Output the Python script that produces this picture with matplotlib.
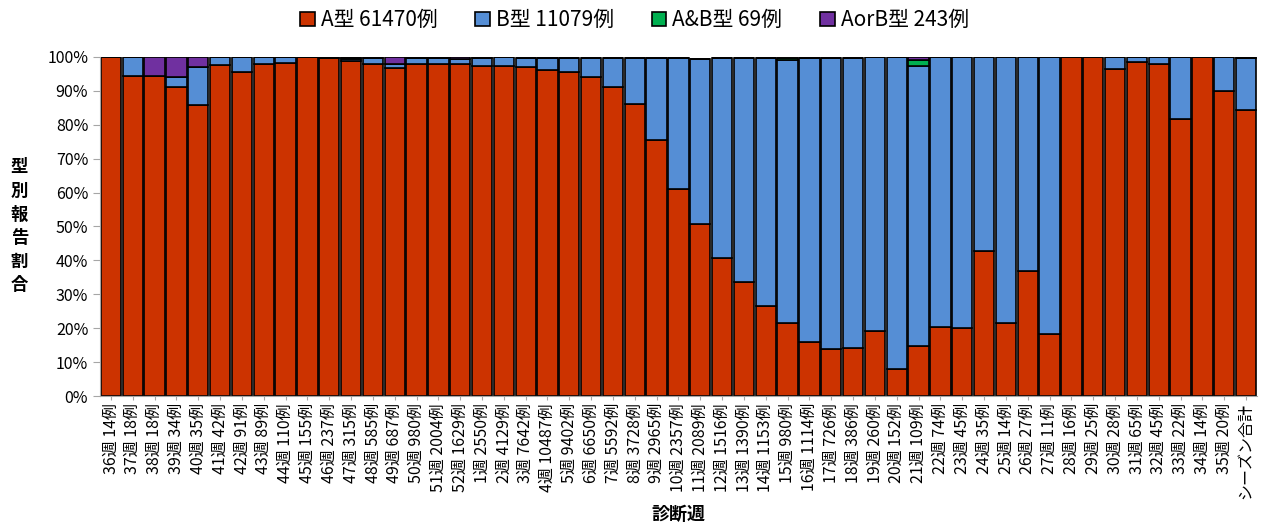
import matplotlib
matplotlib.use("Agg")
import matplotlib.pyplot as plt
import numpy as np

plt.rcParams['font.family'] = ['Noto Sans CJK JP', 'DejaVu Sans']

weeks = ["36週", "37週", "38週", "39週", "40週", "41週", "42週", "43週", "44週", "45週",
         "46週", "47週", "48週", "49週", "50週", "51週", "52週", "1週", "2週", "3週",
         "4週", "5週", "6週", "7週", "8週", "9週", "10週", "11週", "12週", "13週",
         "14週", "15週", "16週", "17週", "18週", "19週", "20週", "21週", "22週", "23週",
         "24週", "25週", "26週", "27週", "28週", "29週", "30週", "31週", "32週", "33週",
         "34週", "35週"]
counts = [14, 18, 18, 34, 35, 42, 91, 89, 110, 155,
          237, 315, 585, 687, 980, 2004, 1629, 2550, 4129, 7642,
          10487, 9402, 6650, 5592, 3728, 2965, 2357, 2089, 1516, 1390,
          1153, 980, 1114, 726, 386, 260, 152, 109, 74, 45,
          35, 14, 27, 11, 16, 25, 28, 65, 45, 22,
          14, 20]
total_label = "シーズン合計"

pct_A = [100.0, 94.4, 94.4, 91.2, 85.7, 97.6, 95.6, 97.8, 98.2, 100.0,
         99.6, 98.7, 98.0, 96.7, 98.0, 98.0, 97.8, 97.3, 97.3, 97.0,
         96.2, 95.5, 94.0, 91.1, 86.0, 75.5, 61.2, 50.6, 40.8, 33.5,
         26.5, 21.5, 16.0, 13.8, 14.2, 19.2, 7.9, 14.7, 20.3, 20.0,
         42.9, 21.4, 37.0, 18.2, 100.0, 100.0, 96.4, 98.5, 97.8, 81.8,
         100.0, 90.0, 84.37]
pct_B = [0.0, 5.6, 0.0, 2.9, 11.4, 2.4, 4.4, 2.2, 1.8, 0.0,
         0.4, 0.6, 1.7, 1.3, 1.6, 1.7, 1.5, 2.5, 2.6, 2.8,
         3.6, 4.3, 5.8, 8.7, 13.8, 24.2, 38.5, 48.8, 59.0, 66.3,
         73.3, 77.5, 83.7, 85.9, 85.5, 80.8, 92.1, 82.6, 79.7, 80.0,
         57.1, 78.6, 63.0, 81.8, 0.0, 0.0, 3.6, 1.5, 2.2, 18.2,
         0.0, 10.0, 15.21]
pct_AB = [0, 0, 0, 0, 0, 0, 0, 0, 0, 0,
          0, 0.3, 0, 0, 0, 0, 0, 0, 0, 0,
          0, 0, 0, 0, 0, 0, 0, 0, 0, 0,
          0, 0.7, 0, 0, 0, 0, 0, 1.8, 0, 0,
          0, 0, 0, 0, 0, 0, 0, 0, 0, 0,
          0, 0, 0.095]
pct_AorB = [0, 0, 5.6, 5.9, 2.9, 0, 0, 0, 0, 0,
            0, 0.3, 0.3, 2.0, 0.4, 0.3, 0.7, 0.2, 0, 0,
            0, 0, 0, 0, 0, 0, 0, 0, 0, 0,
            0, 0, 0, 0, 0, 0, 0, 0.9, 0, 0,
            0, 0, 0, 0, 0, 0, 0, 0, 0, 0,
            0, 0, 0.33]

legend_labels = ["A型 61470例", "B型 11079例", "A&B型 69例", "AorB型 243例"]
colors = ["#CC3300", "#558ED5", "#00B050", "#7030A0"]

labels = [f"{w} {c}例" for w, c in zip(weeks, counts)] + [total_label]

fig = plt.figure(figsize=(12.69, 5.30), dpi=100)
ax = fig.add_axes([0.0788, 0.2528, 0.9117, 0.6397])

x = np.arange(len(labels))
series = [pct_A, pct_B, pct_AB, pct_AorB]
bottom = np.zeros(len(labels))
for vals, col, lab in zip(series, colors, legend_labels):
    v = np.array(vals, dtype=float)
    ax.bar(x, v, bottom=bottom, width=0.93, color=col, edgecolor="black",
           linewidth=1.2, label=lab)
    bottom += v

ax.set_xlim(-0.5, len(labels) - 0.5)
ax.set_ylim(0, 100)
ax.set_yticks(np.arange(0, 101, 10))
ax.set_yticklabels([f"{t}%" for t in range(0, 101, 10)], fontsize=11.5)
ax.set_xticks(x)
ax.set_xticklabels(labels, rotation=90, fontsize=11.5, va="top")
for s in ["top", "right"]:
    ax.spines[s].set_visible(False)
ax.spines["left"].set_color("#A6A6A6")
ax.spines["bottom"].set_color("#A6A6A6")
ax.tick_params(axis="y", colors="#A6A6A6", length=5, labelcolor="black")
ax.tick_params(axis="x", colors="#A6A6A6", length=3, labelcolor="black", pad=2)

ax.set_xlabel("診断週", fontsize=13, fontweight="bold", labelpad=4)
ax.set_ylabel("\n".join("型別報告割合"), fontsize=12.5, fontweight="bold",
              rotation=0, va="center", labelpad=20, linespacing=1.4)

handles, lbls = ax.get_legend_handles_labels()
leg = fig.legend(handles, lbls, loc="upper center", bbox_to_anchor=(0.5, 1.018),
                 ncol=4, frameon=False, fontsize=15, handlelength=0.7,
                 handleheight=0.7, handletextpad=0.3, columnspacing=1.8)

fig.savefig("out.png", dpi=100)
